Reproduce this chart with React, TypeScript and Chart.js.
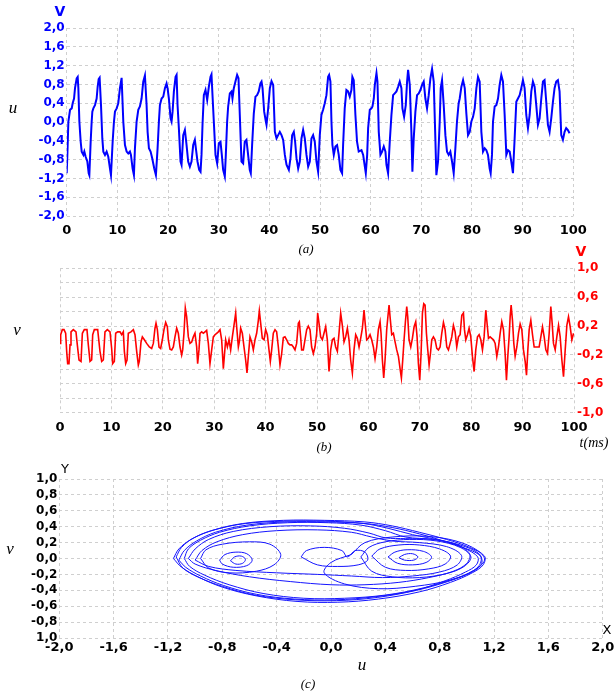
import { useEffect, useRef } from 'react';
import { Chart, registerables } from 'chart.js';
Chart.register(...registerables);

const W = 614;
const H = 695;

// ---- data: panel (a) u(t) ----
const uSeries: [number, number][] = [
[0,-1.09],[0.13,-0.70],[0.33,0.01],[0.66,0.26],[0.99,0.29],[1.18,0.40],[1.45,0.50],[1.64,0.72],[1.97,0.93],[2.17,0.96],[2.30,0.72],[2.50,0.01],[2.76,-0.42],[2.96,-0.63],[3.29,-0.70],[3.48,-0.63],[3.74,-0.74],[4.07,-0.84],[4.34,-1.09],[4.47,-1.13],
[4.73,-0.42],[4.93,0.01],[5.06,0.22],[5.26,0.29],[5.58,0.36],[5.91,0.50],[6.11,0.75],[6.31,0.91],[6.50,0.94],[6.77,0.36],[7.03,-0.35],[7.23,-0.63],[7.56,-0.70],[7.88,-0.63],[8.21,-0.74],[8.54,-0.99],[8.74,-1.13],
[9.07,-0.42],[9.33,0.01],[9.53,0.22],[9.86,0.29],[10.18,0.40],[10.51,0.72],[10.84,0.94],[11.17,0.01],[11.50,-0.49],[11.83,-0.63],[12.15,-0.67],[12.48,-0.63],[12.68,-0.70],[13.01,-0.99],[13.27,-1.13],
[13.47,-0.56],[13.80,0.01],[14.13,0.26],[14.45,0.33],[14.78,0.50],[15.11,0.86],[15.44,0.99],[15.77,0.36],[15.97,-0.21],[16.23,-0.56],[16.56,-0.63],[16.88,-0.77],[17.28,-0.99],[17.61,-1.13],
[17.94,-0.56],[18.20,0.01],[18.40,0.36],[18.73,0.50],[19.06,0.54],[19.39,0.72],[19.71,0.82],[19.91,0.72],[20.17,0.50],[20.50,0.08],[20.70,0.01],[20.90,0.22],[21.16,0.65],[21.49,0.96],[21.69,1.00],[21.88,0.36],[22.14,-0.13],[22.47,-0.84],[22.67,-0.91],
[23.00,-0.28],[23.33,-0.17],[23.66,-0.49],[23.98,-0.84],[24.31,-0.95],[24.64,-0.84],[24.97,-0.49],[25.30,-0.38],[25.50,-0.56],[25.82,-0.84],[26.15,-1.02],[26.42,-1.06],[26.61,-0.70],[26.81,-0.06],[27.07,0.57],[27.40,0.68],[27.73,0.47],[28.06,0.75],[28.39,0.96],[28.58,1.01],[28.78,0.57],[29.04,0.01],[29.37,-0.70],[29.70,-0.88],
[30.03,-0.45],[30.36,-0.42],[30.62,-0.70],[30.88,-1.02],[31.21,-1.16],[31.41,-0.70],[31.67,0.01],[31.87,0.33],[32.20,0.61],[32.53,0.65],[32.72,0.50],[32.99,0.72],[33.31,0.86],[33.64,1.00],[33.91,0.93],[34.17,0.15],[34.50,-0.84],[34.83,-0.88],[35.15,-0.42],[35.48,-0.38],[35.81,-0.70],[36.14,-1.02],[36.34,-1.09],
[36.60,-0.49],[36.93,0.18],[37.26,0.54],[37.58,0.57],[37.91,0.65],[38.24,0.82],[38.46,0.86],[38.66,0.72],[38.98,0.22],[39.31,0.01],[39.44,-0.06],[39.77,0.29],[40.10,0.72],[40.43,0.87],[40.76,0.79],[41.09,-0.21],[41.42,-0.35],[41.74,-0.28],[42.07,-0.21],[42.40,-0.28],[42.73,-0.38],[43.06,-0.70],[43.39,-0.91],[43.85,-1.02],
[44.17,-0.77],[44.50,-0.28],[44.83,-0.21],[45.09,-0.42],[45.36,-0.77],[45.69,-0.99],[46.01,-0.84],[46.34,-0.35],[46.67,-0.17],[47.00,-0.35],[47.33,-0.70],[47.66,-0.95],[47.99,-0.84],[48.31,-0.35],[48.64,-0.28],[48.97,-0.42],[49.30,-0.84],[49.63,-1.06],
[49.96,-0.28],[50.28,0.15],[50.61,0.26],[50.94,0.40],[51.27,0.57],[51.60,0.96],[51.80,1.00],[52.06,0.86],[52.26,0.01],[52.45,-0.49],[52.72,-0.70],[53.04,-0.52],[53.37,-0.49],[53.70,-0.70],[54.03,-1.02],[54.36,-1.09],
[54.56,-0.49],[54.88,0.29],[55.21,0.68],[55.54,0.65],[55.87,0.54],[56.20,0.68],[56.39,0.96],[56.66,0.89],[56.99,0.15],[57.31,-0.42],[57.64,-0.63],[58.19,-0.60],[58.52,-0.70],[58.85,-0.95],[59.04,-1.09],
[59.31,-0.70],[59.50,-0.13],[59.83,0.26],[60.16,0.29],[60.36,0.33],[60.62,0.50],[60.82,0.79],[61.15,1.04],[61.34,0.86],[61.60,-0.21],[61.93,-0.70],[62.26,-0.63],[62.59,-0.52],[62.92,-0.63],[63.12,-0.91],[63.44,-1.09],
[63.77,-0.42],[64.10,0.15],[64.43,0.57],[64.76,0.61],[65.09,0.65],[65.42,0.75],[65.74,0.86],[66.07,0.72],[66.27,0.29],[66.60,0.11],[66.93,0.36],[67.19,0.86],[67.39,1.11],[67.72,0.79],[68.04,-0.21],[68.24,-1.06],
[68.50,-0.35],[68.83,0.22],[69.16,0.57],[69.49,0.61],[69.82,0.68],[70.15,0.79],[70.47,0.86],[70.80,0.50],[71.13,0.29],[71.46,0.57],[71.79,0.93],[72.12,1.13],[72.45,0.86],[72.77,-0.35],[72.97,-1.13],
[73.30,-0.84],[73.63,0.01],[73.83,0.72],[74.09,0.89],[74.42,0.36],[74.75,-0.28],[75.07,-0.63],[75.40,-0.70],[75.73,-0.63],[76.06,-0.84],[76.39,-1.09],
[76.72,-0.56],[77.04,0.01],[77.37,0.40],[77.58,0.50],[77.91,0.75],[78.24,0.89],[78.57,0.72],[78.89,0.18],[79.22,-0.28],[79.55,-0.21],[79.88,0.01],[80.21,0.11],[80.54,0.29],[80.87,0.72],[81.19,0.96],[81.52,0.86],[81.85,-0.21],[82.18,-0.63],[82.51,-0.56],[82.84,-0.60],[83.16,-0.70],[83.49,-0.99],[83.69,-1.09],
[83.95,-0.70],[84.15,0.01],[84.48,0.33],[84.81,0.36],[85.14,0.50],[85.46,0.79],[85.79,1.00],[86.12,0.86],[86.45,0.15],[86.78,-0.70],[87.11,-0.60],[87.44,-0.63],[87.76,-0.84],[88.09,-1.09],
[88.42,-0.35],[88.75,0.43],[89.08,0.50],[89.41,0.57],[89.73,0.72],[90.06,0.89],[90.39,0.72],[90.72,0.15],[91.05,-0.13],[91.38,0.15],[91.71,0.65],[92.03,0.86],[92.36,0.75],[92.69,0.36],[93.02,-0.06],[93.35,0.08],[93.68,0.50],[94.01,0.86],[94.33,0.89],[94.66,0.43],[94.99,-0.06],[95.32,-0.21],[95.65,0.08],[95.98,0.43],[96.30,0.72],[96.63,0.86],[96.96,0.89],[97.29,0.65],[97.62,-0.28],[97.95,-0.38],[98.28,-0.21],[98.60,-0.13],[98.93,-0.17],[99.26,-0.24]
];

// ---- data: panel (b) v(t) ----
const vSeries: [number, number][] = [
[0,-0.04],[0.13,0.08],[0.45,0.15],[0.78,0.15],[1.10,0.10],[1.30,-0.15],[1.49,-0.32],[1.75,-0.32],[1.95,-0.06],[2.14,0.12],[2.59,0.15],[3.11,0.12],[3.37,-0.06],[3.70,-0.27],[4.09,-0.29],[4.35,0.10],[4.73,0.15],[5.25,0.15],[5.51,-0.06],[5.84,-0.29],[6.16,-0.27],[6.36,0.08],[6.68,0.15],[7.33,0.15],[7.78,-0.15],[8.11,-0.29],[8.43,-0.27],[8.75,0.12],[9.21,0.15],[9.73,0.12],
[10.05,-0.11],[10.25,-0.32],[10.57,-0.29],[10.83,0.10],[11.22,0.12],[11.67,0.12],[12.00,0.08],[12.32,0.12],[12.52,-0.15],[12.78,-0.32],[13.04,-0.27],[13.29,0.10],[13.81,0.12],[14.27,0.15],[14.59,0.08],[14.92,-0.15],[15.24,-0.34],[15.43,-0.29],[15.76,-0.02],[16.02,0.05],[16.41,0.01],[16.86,-0.04],[17.38,-0.09],[17.83,-0.11],[18.16,-0.04],[18.48,0.17],[18.68,0.24],[18.94,0.15],[19.26,-0.09],[19.58,-0.11],[19.91,0.01],
[20.23,0.15],[20.56,0.25],[20.88,0.19],[21.08,0.01],[21.40,-0.12],[21.73,-0.13],[22.05,-0.09],[22.37,0.05],[22.70,0.17],[23.02,0.10],[23.35,-0.09],[23.67,-0.20],[23.87,-0.13],[24.12,0.10],[24.38,0.45],[24.64,0.33],[24.97,0.05],[25.29,-0.04],[25.62,-0.02],[25.94,0.05],[26.26,0.10],[26.59,-0.09],[26.78,-0.32],[27.04,-0.13],[27.24,0.10],[27.56,0.12],[27.89,0.10],[28.21,0.12],[28.53,0.14],[28.86,-0.04],[29.18,-0.32],[29.51,-0.13],[29.83,0.05],
[30.16,0.08],[30.48,0.10],[30.80,0.12],[31.13,0.15],[31.45,0.01],[31.78,-0.39],[31.97,-0.22],[32.23,0.01],[32.56,-0.09],[32.88,0.01],[33.20,-0.13],[33.53,0.05],[33.85,0.21],[34.18,0.38],[34.37,0.19],[34.70,-0.09],[34.89,-0.02],[35.15,0.17],[35.47,0.10],[35.80,-0.09],[36.12,-0.27],[36.38,-0.45],[36.64,-0.22],[36.96,0.05],[37.29,-0.02],[37.61,-0.13],[37.94,0.01],[38.26,0.10],[38.59,0.28],[38.78,0.41],[39.04,0.24],[39.36,0.03],[39.69,0.01],
[40.01,0.15],[40.34,0.08],[40.66,-0.13],[40.92,-0.29],[41.18,-0.13],[41.50,0.10],[41.83,0.15],[42.15,0.12],[42.48,-0.09],[42.80,-0.34],[43.13,-0.18],[43.45,0.04],[43.77,0.05],[44.10,0.01],[44.42,-0.04],[44.75,-0.06],[45.07,-0.06],[45.40,-0.09],[45.72,-0.13],[46.04,-0.04],[46.37,0.24],[46.56,0.26],[46.82,0.05],[47.01,-0.13],[47.34,-0.13],[47.66,0.01],[47.99,0.15],[48.31,0.20],[48.64,0.15],[48.96,-0.09],[49.29,-0.18],[49.61,-0.09],[49.94,0.10],
[50.13,0.38],[50.39,0.24],[50.71,0.05],[51.04,0.01],[51.36,0.10],[51.69,0.19],[52.01,0.01],[52.34,-0.43],[52.66,-0.13],[52.99,0.01],[53.31,0.03],[53.63,-0.09],[53.96,-0.15],[54.28,0.10],[54.61,0.38],[54.93,0.21],[55.26,-0.02],[55.58,0.05],[55.91,0.17],[56.23,0.01],[56.55,-0.27],[56.88,-0.45],[57.20,-0.13],[57.53,0.08],[57.85,0.03],[58.18,-0.09],[58.50,0.03],[58.83,0.17],[59.15,0.42],[59.41,0.21],[59.67,0.01],[59.99,0.03],
[60.32,0.08],[60.64,0.01],[60.97,-0.09],[61.29,-0.25],[61.62,-0.09],[61.94,0.15],[62.27,0.26],[62.46,0.10],[62.72,-0.27],[62.98,-0.52],[63.24,-0.27],[63.56,0.15],[63.82,0.35],[64.02,0.49],[64.21,0.33],[64.54,0.08],[64.86,0.10],[65.19,-0.02],[65.51,-0.13],[65.84,-0.22],[66.16,-0.39],[66.42,-0.52],[66.68,-0.27],[66.94,0.01],[67.20,0.26],[67.46,0.47],[67.65,0.33],[67.91,0.01],[68.24,-0.09],[68.56,0.03],[68.89,0.19],[69.21,0.26],[69.47,0.05],[69.73,-0.32],[69.99,-0.55],
[70.25,-0.18],[70.51,0.38],[70.77,0.51],[71.03,0.49],[71.29,0.10],[71.55,-0.13],[71.81,-0.34],[72.07,-0.18],[72.33,0.01],[72.65,0.05],[72.97,0.01],[73.30,-0.11],[73.62,-0.13],[73.95,-0.09],[74.27,0.10],[74.60,0.25],[74.92,0.15],[75.25,-0.09],[75.57,-0.13],[75.90,-0.04],[76.22,0.05],[76.54,0.21],[76.87,0.12],[77.19,-0.09],[77.52,0.05],[77.84,0.08],[78.17,0.35],[78.49,0.38],[78.69,0.15],[78.95,0.01],[79.27,0.08],[79.59,0.17],[79.92,0.05],
[80.24,-0.22],[80.57,-0.43],[80.89,-0.13],[81.22,0.05],[81.54,0.08],[81.87,0.01],[82.19,-0.13],[82.51,0.05],[82.84,0.42],[83.03,0.28],[83.36,0.03],[83.68,0.05],[84.01,0.03],[84.33,0.01],[84.66,-0.04],[84.98,-0.22],[85.31,-0.09],[85.63,0.10],[85.95,0.26],[86.28,0.15],[86.60,-0.18],[86.86,-0.55],[87.12,-0.22],[87.38,0.05],[87.58,0.33],[87.77,0.49],[88.03,0.28],[88.29,-0.04],[88.55,-0.22],[88.88,-0.09],[89.20,0.10],[89.52,0.23],[89.85,0.15],
[90.17,-0.13],[90.50,-0.29],[90.76,-0.48],[91.02,-0.13],[91.28,0.15],[91.60,0.28],[91.93,0.08],[92.25,-0.09],[92.90,-0.09],[93.22,-0.09],[93.55,0.05],[93.87,0.19],[94.20,0.05],[94.52,-0.13],[94.85,-0.18],[95.17,0.10],[95.49,0.47],[95.75,0.24],[96.01,-0.04],[96.34,-0.13],[96.66,0.05],[96.99,0.21],[97.31,0.05],[97.64,-0.27],[97.96,-0.50],[98.29,-0.13],[98.61,0.21],[98.93,0.33],[99.26,0.19],[99.58,0.01],[99.91,0.10]
];

// ---- data: panel (c) phase portrait v vs u, traced loops ----
const outer1: [number, number][] = [[-1.16,0.00],[-1.12,0.12],[-1.03,0.24],[-0.88,0.35],[-0.65,0.44],[-0.35,0.48],[-0.05,0.48],[0.25,0.46],[0.45,0.41],[0.65,0.33],[0.85,0.24],[1.02,0.14],[1.13,0.03],[1.12,-0.08],[1.04,-0.18],[0.88,-0.30],[0.65,-0.42],[0.35,-0.51],[0.05,-0.55],[-0.25,-0.54],[-0.55,-0.47],[-0.80,-0.36],[-0.98,-0.23],[-1.10,-0.11],[-1.16,0.00]];
const outer2: [number, number][] = [[-1.12,-0.02],[-1.08,0.10],[-0.99,0.22],[-0.85,0.33],[-0.62,0.42],[-0.33,0.46],[-0.03,0.46],[0.25,0.44],[0.45,0.39],[0.65,0.31],[0.83,0.22],[0.98,0.13],[1.08,0.02],[1.07,-0.08],[0.99,-0.17],[0.84,-0.28],[0.62,-0.40],[0.33,-0.48],[0.03,-0.52],[-0.27,-0.51],[-0.55,-0.45],[-0.79,-0.34],[-0.96,-0.22],[-1.07,-0.11],[-1.12,-0.02]];
const outer3: [number, number][] = [[-1.14,0.02],[-1.10,0.14],[-1.01,0.26],[-0.86,0.36],[-0.63,0.44],[-0.34,0.47],[-0.04,0.47],[0.24,0.44],[0.42,0.38],[0.60,0.30],[0.80,0.23],[0.97,0.14],[1.10,0.03],[1.09,-0.09],[1.01,-0.19],[0.86,-0.29],[0.63,-0.40],[0.34,-0.49],[0.04,-0.53],[-0.26,-0.52],[-0.56,-0.46],[-0.80,-0.35],[-0.97,-0.24],[-1.09,-0.12],[-1.14,0.02]];
const outer4: [number, number][] = [[-1.08,0.00],[-1.05,0.12],[-0.96,0.23],[-0.82,0.33],[-0.60,0.41],[-0.32,0.45],[-0.02,0.45],[0.22,0.42],[0.40,0.35],[0.55,0.27],[0.75,0.24],[0.95,0.17],[1.09,0.06],[1.11,-0.06],[1.05,-0.16],[0.90,-0.26],[0.68,-0.37],[0.40,-0.46],[0.10,-0.50],[-0.20,-0.50],[-0.50,-0.44],[-0.75,-0.33],[-0.93,-0.21],[-1.04,-0.10],[-1.08,0.00]];
const cross1: [number, number][] = [[-1.05,0.00],[-1.00,0.12],[-0.90,0.24],[-0.72,0.34],[-0.45,0.40],[-0.15,0.41],[0.10,0.38],[0.28,0.32],[0.40,0.26],[0.55,0.25],[0.75,0.24],[0.92,0.18],[1.02,0.06],[1.00,-0.06],[0.90,-0.16],[0.72,-0.24],[0.50,-0.30],[0.25,-0.33],[0.00,-0.33],[-0.30,-0.29],[-0.60,-0.23],[-0.85,-0.15],[-1.00,-0.07],[-1.05,0.00]];
const cross2: [number, number][] = [[-1.00,-0.02],[-0.95,0.10],[-0.84,0.21],[-0.65,0.30],[-0.40,0.35],[-0.10,0.36],[0.15,0.33],[0.30,0.27],[0.45,0.22],[0.65,0.20],[0.85,0.15],[0.96,0.04],[0.93,-0.08],[0.80,-0.17],[0.60,-0.22],[0.38,-0.24],[0.15,-0.22],[-0.10,-0.20],[-0.40,-0.18],[-0.70,-0.15],[-0.90,-0.10],[-1.00,-0.02]];
const rightBig: [number, number][] = [[0.15,0.05],[0.25,0.20],[0.45,0.27],[0.70,0.28],[0.92,0.22],[1.08,0.10],[1.13,-0.02],[1.05,-0.15],[0.88,-0.27],[0.62,-0.35],[0.35,-0.38],[0.10,-0.32],[-0.05,-0.18],[0.00,-0.05],[0.15,0.05]];
const right1: [number, number][] = [[0.22,0.02],[0.28,0.14],[0.40,0.21],[0.58,0.24],[0.78,0.22],[0.95,0.14],[1.03,0.02],[0.98,-0.10],[0.85,-0.19],[0.65,-0.24],[0.45,-0.23],[0.30,-0.16],[0.22,0.02]];
const right2: [number, number][] = [[0.30,0.03],[0.36,0.12],[0.50,0.17],[0.65,0.17],[0.80,0.12],[0.88,0.03],[0.84,-0.07],[0.72,-0.13],[0.55,-0.15],[0.40,-0.11],[0.30,0.03]];
const right3: [number, number][] = [[0.42,0.02],[0.47,0.08],[0.56,0.11],[0.68,0.09],[0.74,0.02],[0.70,-0.05],[0.60,-0.08],[0.49,-0.06],[0.42,0.02]];
const right4: [number, number][] = [[0.50,0.01],[0.54,0.05],[0.60,0.06],[0.64,0.02],[0.61,-0.02],[0.54,-0.02],[0.50,0.01]];
const left1: [number, number][] = [[-0.96,0.00],[-0.92,0.11],[-0.80,0.18],[-0.60,0.21],[-0.45,0.18],[-0.37,0.05],[-0.42,-0.08],[-0.55,-0.16],[-0.75,-0.18],[-0.90,-0.12],[-0.96,0.00]];
const left2: [number, number][] = [[-0.82,-0.02],[-0.78,0.05],[-0.70,0.08],[-0.62,0.06],[-0.58,-0.02],[-0.62,-0.09],[-0.72,-0.11],[-0.80,-0.07],[-0.82,-0.02]];
const left3: [number, number][] = [[-0.74,-0.03],[-0.71,0.02],[-0.66,0.03],[-0.63,-0.01],[-0.65,-0.06],[-0.70,-0.07],[-0.74,-0.03]];
const middle1: [number, number][] = [[-0.22,0.02],[-0.18,0.10],[-0.05,0.14],[0.08,0.10],[0.12,0.02],[0.18,0.10],[0.25,0.08],[0.27,-0.02],[0.20,-0.08],[0.05,-0.10],[-0.10,-0.08],[-0.22,0.02]];
const phaseLoops = [outer1, outer2, outer3, outer4, cross1, cross2, rightBig, right1, right2, right3, right4, left1, left2, left3, middle1];

// ---- tick values & labels ----
const timeTicks = [0, 10, 20, 30, 40, 50, 60, 70, 80, 90, 100];
const timeLabels = ['0', '10', '20', '30', '40', '50', '60', '70', '80', '90', '100'];
const uTicks = [-2, -1.6, -1.2, -0.8, -0.4, 0, 0.4, 0.8, 1.2, 1.6, 2];
const uLabels = ['-2,0', '-1,6', '-1,2', '-0,8', '-0,4', '0,0', '0,4', '0,8', '1,2', '1,6', '2,0'];
const vTicks = [-1, -0.8, -0.6, -0.4, -0.2, 0, 0.2, 0.4, 0.6, 0.8, 1];
const vLabels = ['-1,0', '', '-0,6', '', '-0,2', '', '0,2', '', '0,6', '', '1,0'];
const phaseUTicks = [-2, -1.6, -1.2, -0.8, -0.4, 0, 0.4, 0.8, 1.2, 1.6, 2];
const phaseULabels = ['-2,0', '-1,6', '-1,2', '-0,8', '-0,4', '0,0', '0,4', '0,8', '1,2', '1,6', '2,0'];
const phaseVTicks = [-1, -0.8, -0.6, -0.4, -0.2, 0, 0.2, 0.4, 0.6, 0.8, 1];
const phaseVLabels = ['1,0', '-0,8', '-0,6', '-0,4', '-0,2', '0,0', '0,2', '0,4', '0,6', '0,8', '1,0'];

const SANS = '"DejaVu Sans", "Liberation Sans", sans-serif';
const SERIF = '"Liberation Serif", "DejaVu Serif", serif';
const GRID = '#cfcfcf';

type Txt = { text: string; x: number; y: number; font: string; color: string };
const textPlugin = (id: string, items: Txt[]) => ({
  id,
  afterDraw(chart: any) {
    const ctx = chart.ctx as CanvasRenderingContext2D;
    ctx.save();
    ctx.textAlign = 'center';
    ctx.textBaseline = 'middle';
    for (const t of items) {
      ctx.font = t.font;
      ctx.fillStyle = t.color;
      ctx.fillText(t.text, t.x, t.y);
    }
    ctx.restore();
  },
});

const axis = (
  ticks: number[],
  labels: string[],
  color: string,
  size: number,
  pad: number,
  fit: (s: any) => void,
  extra: any = {}
) => ({
  type: 'linear',
  min: ticks[0],
  max: ticks[ticks.length - 1],
  afterBuildTicks: (s: any) => {
    s.ticks = ticks.map((value) => ({ value }));
  },
  afterFit: fit,
  grid: { color: GRID, lineWidth: 1, drawTicks: false },
  border: { display: false, dash: [3, 3] },
  ticks: {
    autoSkip: false,
    maxRotation: 0,
    minRotation: 0,
    padding: pad,
    color,
    font: { family: SANS, size, weight: 'bold' },
    callback: (_v: any, i: number) => labels[i],
  },
  ...extra,
});

const baseOptions = (padding: any, scales: any) => ({
  responsive: false,
  maintainAspectRatio: false,
  animation: false,
  events: [],
  devicePixelRatio: 1,
  layout: { padding },
  plugins: { legend: { display: false }, tooltip: { enabled: false } },
  scales,
});

export default function App() {
  const refA = useRef<HTMLCanvasElement>(null);
  const refB = useRef<HTMLCanvasElement>(null);
  const refC = useRef<HTMLCanvasElement>(null);

  useEffect(() => {
    const xFit = (h: number) => (s: any) => {
      s.height = h;
      s.paddingLeft = 0;
      s.paddingRight = 0;
    };
    const yFit = (w: number) => (s: any) => {
      s.width = w;
      s.paddingTop = 0;
      s.paddingBottom = 0;
    };

    const chartA = new Chart(refA.current as HTMLCanvasElement, {
      type: 'line',
      data: {
        datasets: [
          {
            data: uSeries.map(([x, y]) => ({ x, y })),
            borderColor: '#0000ff',
            borderWidth: 2,
            pointRadius: 0,
            tension: 0,
            fill: false,
          },
        ],
      },
      options: baseOptions(
        { left: 0, top: 28, right: W - 573.3, bottom: H - 216 - 20 },
        {
          x: axis(timeTicks, timeLabels, '#000', 13, 7, xFit(20)),
          y: axis(uTicks, uLabels, '#0000ff', 12, 2, yFit(66.7)),
        }
      ) as any,
      plugins: [
        textPlugin('txtA', [
          { text: 'V', x: 60, y: 12, font: `bold 14px ${SANS}`, color: '#0000ff' },
          { text: 'u', x: 13, y: 109, font: `italic 17px ${SERIF}`, color: '#000' },
          { text: '(a)', x: 306, y: 250, font: `italic 13px ${SERIF}`, color: '#000' },
        ]),
      ],
    } as any);

    const chartB = new Chart(refB.current as HTMLCanvasElement, {
      type: 'line',
      data: {
        datasets: [
          {
            data: vSeries.map(([x, y]) => ({ x, y })),
            borderColor: '#ff0000',
            borderWidth: 1.6,
            pointRadius: 0,
            tension: 0,
            fill: false,
          },
        ],
      },
      options: baseOptions(
        { left: 60, top: 268.3, right: 0, bottom: H - 412.7 - 20 },
        {
          x: axis(timeTicks, timeLabels, '#000', 13, 7, xFit(20)),
          y: axis(vTicks, vLabels, '#ff0000', 12, 3, yFit(W - 574), { position: 'right' }),
        }
      ) as any,
      plugins: [
        textPlugin('txtB', [
          { text: 'V', x: 581, y: 252, font: `bold 14px ${SANS}`, color: '#ff0000' },
          { text: 'v', x: 17, y: 331, font: `italic 17px ${SERIF}`, color: '#000' },
          { text: '(b)', x: 324, y: 448, font: `italic 13px ${SERIF}`, color: '#000' },
          { text: 't(ms)', x: 594, y: 443, font: `italic 14px ${SERIF}`, color: '#000' },
        ]),
      ],
    } as any);

    const chartC = new Chart(refC.current as HTMLCanvasElement, {
      type: 'scatter',
      data: {
        datasets: phaseLoops.map((loop) => ({
          data: loop.map(([x, y]) => ({ x, y })),
          showLine: true,
          borderColor: '#1414ff',
          borderWidth: 1,
          pointRadius: 0,
          tension: 0.35,
          fill: false,
        })),
      },
      options: baseOptions(
        { left: 0, top: 479, right: W - 602.7, bottom: H - 638 - 20 },
        {
          x: axis(phaseUTicks, phaseULabels, '#000', 13, 2, xFit(20)),
          y: axis(phaseVTicks, phaseVLabels, '#000', 12, 2, yFit(59.3)),
        }
      ) as any,
      plugins: [
        textPlugin('txtC', [
          { text: 'Y', x: 65, y: 470, font: `13px ${SANS}`, color: '#000' },
          { text: 'X', x: 607, y: 631, font: `13px ${SANS}`, color: '#000' },
          { text: 'u', x: 362, y: 666, font: `italic 17px ${SERIF}`, color: '#000' },
          { text: '(c)', x: 308, y: 685, font: `italic 13px ${SERIF}`, color: '#000' },
          { text: 'v', x: 10, y: 550, font: `italic 17px ${SERIF}`, color: '#000' },
        ]),
      ],
    } as any);

    return () => {
      chartA.destroy();
      chartB.destroy();
      chartC.destroy();
    };
  }, []);

  const cv: any = { position: 'absolute', left: 0, top: 0, width: W, height: H };
  return (
    <div style={{ position: 'absolute', left: 0, top: 0, width: W, height: H, background: '#fff' }}>
      <canvas ref={refA} width={W} height={H} style={cv} />
      <canvas ref={refB} width={W} height={H} style={cv} />
      <canvas ref={refC} width={W} height={H} style={cv} />
    </div>
  );
}
